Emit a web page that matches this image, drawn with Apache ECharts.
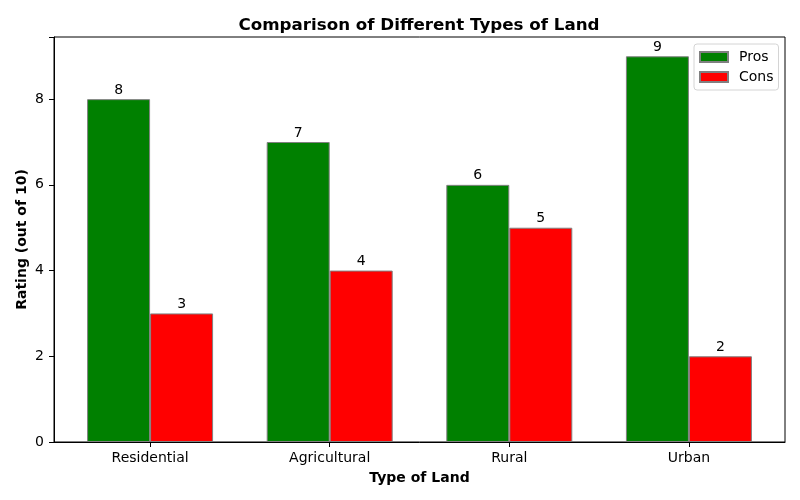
<!DOCTYPE html>
<html>
<head>
<meta charset="utf-8">
<script src="https://cdn.jsdelivr.net/npm/echarts@6/dist/echarts.min.js"></script>
<style>html,body{margin:0;padding:0;background:#fff}#c{width:800px;height:500px}</style>
</head>
<body>
<div id="c"></div>
<script>
const categories = ['Residential', 'Agricultural', 'Rural', 'Urban'];
const prosValues = [8, 7, 6, 9];
const consValues = [3, 4, 5, 2];
const yTicks = [0, 2, 4, 6, 8];

const FONT = 'DejaVu Sans';
const catIdx = categories.map((c, i) => i);
const chart = echarts.init(document.getElementById('c'), null, {renderer: 'canvas'});
const labelCfg = {show: true, position: 'top', distance: 2, color: '#000', fontFamily: FONT, fontSize: 14,
  formatter: p => String(p.value[1])};
chart.setOption({
  animation: false,
  textStyle: {fontFamily: FONT},
  title: {
    text: 'Comparison of Different Types of Land',
    left: 414, top: 12, textAlign: 'center',
    textStyle: {fontFamily: FONT, fontSize: 16.7, fontWeight: 'bold', color: '#000'}
  },
  legend: {
    orient: 'vertical', left: 694, top: 44,
    padding: [6, 5, 6, 5], itemGap: 6, itemWidth: 28, itemHeight: 10, icon: 'rect',
    borderColor: '#d4d4d4', borderWidth: 1, borderRadius: 3, backgroundColor: '#fff',
    textStyle: {fontFamily: FONT, fontSize: 14, color: '#000', padding: [0, 0, 0, 6]},
    data: ['Pros', 'Cons']
  },
  grid: {left: 54, right: 15, top: 37, bottom: 58, show: true, borderColor: '#000', borderWidth: 1, backgroundColor: 'transparent'},
  xAxis: {
    type: 'value', min: -0.535, max: 3.535,
    name: 'Type of Land', nameLocation: 'middle', nameGap: 29,
    nameTextStyle: {fontFamily: FONT, fontSize: 14, fontWeight: 'bold', color: '#000'},
    axisLine: {onZero: false, lineStyle: {color: '#000'}},
    axisTick: {show: true, length: 5, lineStyle: {color: '#000'}, customValues: catIdx},
    axisLabel: {fontFamily: FONT, fontSize: 14, color: '#000', margin: 9, customValues: catIdx,
      formatter: v => categories[Math.round(v)]},
    splitLine: {show: false}
  },
  yAxis: {
    type: 'value', min: 0, max: 9.45, interval: 2,
    name: 'Rating (out of 10)', nameLocation: 'middle', nameGap: 25, nameMoveOverlap: false,
    nameTextStyle: {fontFamily: FONT, fontSize: 14, fontWeight: 'bold', color: '#000'},
    axisLine: {show: true, onZero: false, lineStyle: {color: '#000'}},
    axisTick: {show: true, length: 5, lineStyle: {color: '#000', width: 1}},
    axisLabel: {fontFamily: FONT, fontSize: 14, color: '#000', margin: 10, customValues: yTicks},
    splitLine: {show: false}
  },
  series: [
    {name: 'Pros', type: 'bar', data: catIdx.map(i => [i, prosValues[i]]), barWidth: 63, barGap: '0%',
     itemStyle: {color: '#008000', borderColor: '#808080', borderWidth: 1}, label: labelCfg},
    {name: 'Cons', type: 'bar', data: catIdx.map(i => [i, consValues[i]]), barWidth: 63, barGap: '0%',
     itemStyle: {color: '#ff0000', borderColor: '#808080', borderWidth: 1}, label: labelCfg}
  ]
});
</script>
</body>
</html>
